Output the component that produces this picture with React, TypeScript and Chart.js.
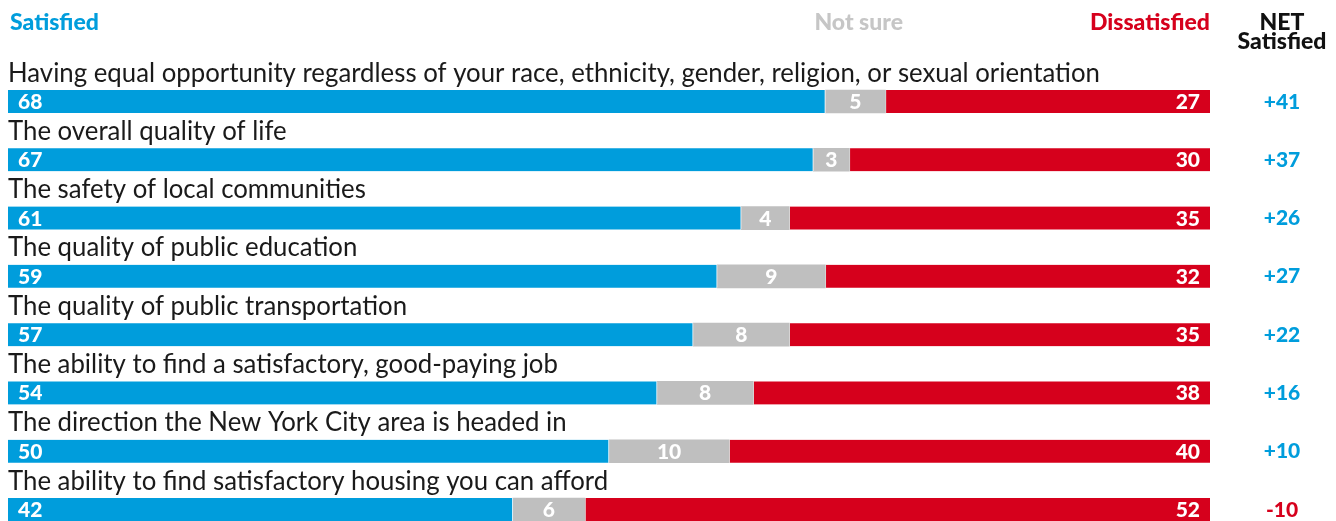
import React, { useEffect, useRef } from "react";
import { Chart, registerables } from "chart.js";

Chart.register(...registerables);

const categories = [
  "Having equal opportunity regardless of your race, ethnicity, gender, religion, or sexual orientation",
  "The overall quality of life",
  "The safety of local communities",
  "The quality of public education",
  "The quality of public transportation",
  "The ability to find a satisfactory, good-paying job",
  "The direction the New York City area is headed in",
  "The ability to find satisfactory housing you can afford",
];
const satisfied = [68, 67, 61, 59, 57, 54, 50, 42];
const notSure = [5, 3, 4, 9, 8, 8, 10, 6];
const dissatisfied = [27, 30, 35, 32, 35, 38, 40, 52];
const netSatisfied = [41, 37, 26, 27, 22, 16, 10, -10];
const seriesNames = ["Satisfied", "Not sure", "Dissatisfied"];
const netHeader = ["NET", "Satisfied"];

const BLUE = "#009ddc";
const GRAY = "#bfbfbf";
const RED = "#d6001c";
const FONT = "Lato, 'Open Sans', sans-serif";

export default function App() {
  const ref = useRef<HTMLCanvasElement | null>(null);

  useEffect(() => {
    const canvas = ref.current;
    if (!canvas) return;

    const textPlugin = {
      id: "textPlugin",
      afterDatasetsDraw(chart: any) {
        const ctx = chart.ctx as CanvasRenderingContext2D;
        const xs = chart.scales.x;
        const ys = chart.scales.y;
        const left = xs.getPixelForValue(0);
        const right = xs.getPixelForValue(100);
        const netX = 1282;

        const draw = (
          text: string,
          x: number,
          y: number,
          align: CanvasTextAlign,
          font: string,
          color: string,
          sx = 1
        ) => {
          ctx.save();
          ctx.font = font;
          ctx.fillStyle = color;
          ctx.textAlign = align;
          ctx.textBaseline = "alphabetic";
          ctx.translate(x, y);
          ctx.scale(sx, 1);
          ctx.fillText(text, 0, 0);
          ctx.restore();
        };

        // header
        const hFont = `900 23px ${FONT}`;
        draw(seriesNames[0], 10, 30, "left", hFont, BLUE);
        draw(seriesNames[1], 903, 30, "right", hFont, "#c6c6c6");
        draw(seriesNames[2], right, 30, "right", hFont, RED);
        draw(netHeader[0], netX, 30, "center", hFont, "#111");
        draw(netHeader[1], netX, 49, "center", hFont, "#111");

        // category labels - compute horizontal scale to fit reference width
        const labelFont = `26px ${FONT}`;
        ctx.save();
        ctx.font = labelFont;
        const w0 = ctx.measureText(categories[0]).width;
        ctx.restore();
        const sx = Math.min(1, 1092 / w0);

        const vFont = `900 21px ${FONT}`;
        categories.forEach((cat, i) => {
          const cy = ys.getPixelForValue(i);
          draw(cat, 8, cy - 20, "left", labelFont, "#1a1a1a", sx);
          const base = cy + 7.5;
          draw(String(satisfied[i]), left + 10, base, "left", vFont, "#fff");
          const gStart = xs.getPixelForValue(satisfied[i]);
          const gEnd = xs.getPixelForValue(satisfied[i] + notSure[i]);
          draw(String(notSure[i]), (gStart + gEnd) / 2, base, "center", vFont, "#fff");
          draw(String(dissatisfied[i]), right - 10, base, "right", vFont, "#fff");
          const n = netSatisfied[i];
          draw(
            (n > 0 ? "+" : "") + n,
            netX,
            cy + 7,
            "center",
            `900 21px ${FONT}`,
            n >= 0 ? BLUE : RED
          );
        });
      },
    };

    const common = {
      barThickness: 23,
      borderColor: "#ffffff",
      borderSkipped: false,
      clip: false,
    };

    const chart = new Chart(canvas, {
      type: "bar",
      data: {
        labels: categories,
        datasets: [
          {
            ...common,
            label: seriesNames[0],
            data: satisfied,
            backgroundColor: BLUE,
            borderWidth: { left: 0, right: 1, top: 0, bottom: 0 },
          } as any,
          {
            ...common,
            label: seriesNames[1],
            data: notSure,
            backgroundColor: GRAY,
            borderWidth: 0,
          } as any,
          {
            ...common,
            label: seriesNames[2],
            data: dissatisfied,
            backgroundColor: RED,
            borderWidth: { left: 1, right: 0, top: 0, bottom: 0 },
          } as any,
        ],
      },
      options: {
        indexAxis: "y",
        responsive: false,
        animation: false,
        maintainAspectRatio: false,
        layout: { padding: { left: 8, right: 126, top: 101.5, bottom: 11.5 } },
        scales: {
          x: { min: 0, max: 100, stacked: true, display: false },
          y: { stacked: true, display: false, offset: false },
        },
        plugins: {
          legend: { display: false },
          tooltip: { enabled: false },
        },
      },
      plugins: [textPlugin],
    });

    return () => chart.destroy();
  }, []);

  return (
    <div style={{ position: "fixed", left: 0, top: 0, width: 1336, height: 521, background: "#fff" }}>
      <canvas ref={ref} width={1336} height={521} style={{ width: 1336, height: 521 }} />
    </div>
  );
}
